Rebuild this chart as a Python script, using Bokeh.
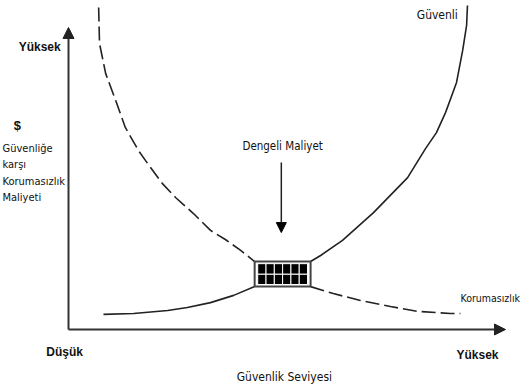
from bokeh.plotting import figure
from bokeh.models import Range1d, Arrow, NormalHead, Label
from bokeh.embed import file_html
from bokeh.resources import INLINE
import numpy as np

# Conceptual scale: security level 0..100 (x), cost 0..100 (y)
# "Güvenli" curve (cost of security), solid: low part and high part
guv_low_x = [8.0, 14.9, 22.7, 27.2, 32.5, 37.8, 42.6]
guv_low_y = [5.0, 5.3, 6.3, 7.3, 8.9, 11.3, 14.2]
guv_high_x = [55.4, 57.7, 62.7, 69.8, 77.6, 81.7, 84.2, 86.3, 88.8, 90.2, 91.1, 91.3]
guv_high_y = [22.5, 24.5, 29.5, 38.7, 50.3, 59.9, 65.2, 71.9, 81.8, 92.4, 100.7, 107.3]

# "Korumasızlık" curve (cost of insecurity), dashed
kor_high_x = [6.9, 7.1, 8.5, 10.8, 13.0, 16.0, 17.6, 21.5, 24.5, 28.6, 32.5, 35.9, 39.4, 42.6]
kor_high_y = [106.6, 94.7, 84.8, 75.8, 66.9, 59.3, 56.0, 48.3, 43.7, 38.4, 32.8, 29.8, 26.2, 22.5]
kor_low_x = [55.4, 60.6, 66.8, 73.7, 79.9, 87.4, 89.7]
kor_low_y = [14.2, 11.9, 9.6, 7.6, 6.0, 5.3, 5.3]

axis_max = 100
cell_cols, cell_rows = 6, 2

FONT = "DejaVu Sans Condensed, Liberation Sans, sans-serif"
BOLD = "Liberation Sans"
INK = "#222222"

p = figure(width=524, height=390, output_backend="svg", toolbar_location=None,
           x_range=Range1d(-15.56, 104.35), y_range=Range1d(-20.2, 108.94),
           min_border=0, outline_line_color=None)
p.axis.visible = False
p.grid.visible = False
p.background_fill_color = "white"
p.border_fill_color = "white"

# axes with arrows
p.add_layout(Arrow(end=NormalHead(size=11, fill_color=INK, line_color=INK),
                   x_start=0, y_start=0, x_end=0, y_end=axis_max,
                   line_color="#333333", line_width=2))
p.add_layout(Arrow(end=NormalHead(size=11, fill_color=INK, line_color=INK),
                   x_start=0, y_start=0, x_end=axis_max, y_end=0,
                   line_color="#333333", line_width=2))

# curves
p.line(guv_low_x, guv_low_y, line_color=INK, line_width=1.6)
p.line(guv_high_x, guv_high_y, line_color=INK, line_width=1.6)
p.line(kor_high_x, kor_high_y, line_color=INK, line_width=1.6, line_dash="14 5")
p.line(kor_low_x, kor_low_y, line_color=INK, line_width=1.6, line_dash="14 5")

# equilibrium box
bl, br = guv_low_x[-1], guv_high_x[0]
bb, bt = guv_low_y[-1], guv_high_y[0]
p.quad(left=[bl], right=[br], bottom=[bb], top=[bt], fill_color="white",
       line_color="#444444", line_width=2)
pad_x, pad_y = 0.7, 0.7
ix = np.linspace(bl + pad_x, br - pad_x, cell_cols + 1)
iy = np.linspace(bb + pad_y, bt - pad_y, cell_rows + 1)
L, R, B, T = [], [], [], []
for r in range(cell_rows):
    for c in range(cell_cols):
        L.append(ix[c]); R.append(ix[c + 1]); B.append(iy[r]); T.append(iy[r + 1])
p.quad(left=L, right=R, bottom=B, top=T, fill_color="black", line_color="white", line_width=1)

# Dengeli Maliyet arrow
cx = (bl + br) / 2
p.add_layout(Arrow(end=NormalHead(size=10, fill_color="black", line_color="black"),
                   x_start=cx - 0.3, y_start=55.3, x_end=cx - 0.3, y_end=32.1,
                   line_color=INK, line_width=1.5))


def lab(x, y, t, size="12px", font=FONT, bold=False, align="center"):
    p.add_layout(Label(x=x, y=y, text=t, text_font=font, text_font_size=size,
                       text_font_style="bold" if bold else "normal",
                       text_align=align, text_baseline="middle", text_color="#111111"))


lab(49.0, 60.9, "Dengeli Maliyet", size="11.5px")
lab(84.4, 104.3, "Güvenli", size="12px")
lab(89.7, 10.3, "Korumasızlık", size="10.5px", align="left")
lab(-6.6, 93.4, "Yüksek", size="12px", font=BOLD, bold=True)
lab(-11.7, 67.5, "$", size="13px", font=BOLD, bold=True)
lab(-15.1, 59.9, "Güvenliğe", size="11px", align="left")
lab(-15.1, 54.6, "karşı", size="11px", align="left")
lab(-15.1, 49.0, "Korumasızlık", size="11px", align="left")
lab(-15.1, 43.7, "Maliyeti", size="11px", align="left")
lab(-0.9, -7.6, "Düşük", size="12px", font=BOLD, bold=True)
lab(93.6, -8.6, "Yüksek", size="12px", font=BOLD, bold=True)
lab(49.4, -15.6, "Güvenlik Seviyesi", size="12px")

open("out.html", "w").write(file_html(p, INLINE))
